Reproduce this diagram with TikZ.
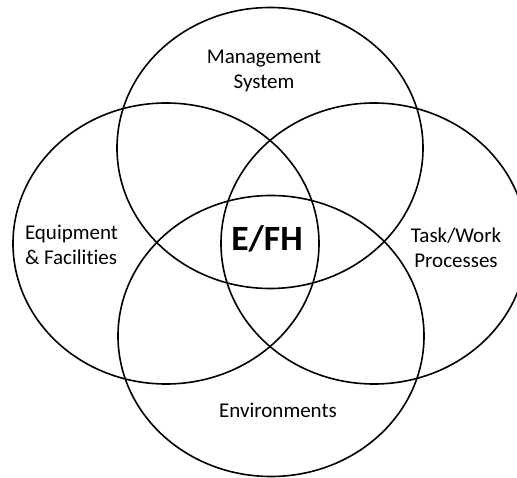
\documentclass[tikz,border=0pt]{standalone}
\usepackage{fontspec}
\setmainfont[Ligatures={NoCommon}]{Carlito}
\usetikzlibrary{shapes.geometric}
\begin{document}
\begin{tikzpicture}[x=1pt,y=1pt,
  ring/.style={ellipse, draw, line width=1.6pt, minimum width=306pt,
    minimum height=281pt, inner sep=0pt},
  lbl/.style={font=\fontsize{21}{25}\selectfont, align=center, inner sep=0pt},
  core/.style={font=\fontsize{35.5}{40}\selectfont\bfseries, inner sep=0pt}]
  % page frame, with the right ring running off the edge
  \fill[white] (0,0) rectangle (517,477);
  \clip (0,0) rectangle (517,477);

  % the four overlapping rings
  \node[ring] (mgmt) at (270,329) {};
  \node[ring] (equip) at (166,233.5) {};
  \node[ring] (task) at (374,233.5) {};
  \node[ring] (env) at (271,141) {};

  % labels
  \node[lbl] (mgmtlbl) at (264,406) {Management\\System};
  \node[lbl, align=left] (equiplbl) at (71.5,232) {Equipment\\\& Facilities};
  \node[lbl] (tasklbl) at (456,229.5) {Task/Work\\Processes};
  \node[lbl] (envlbl) at (278,67) {Environments};
  \node[core] (efh) at (267,238) {E/FH};
\end{tikzpicture}
\end{document}
